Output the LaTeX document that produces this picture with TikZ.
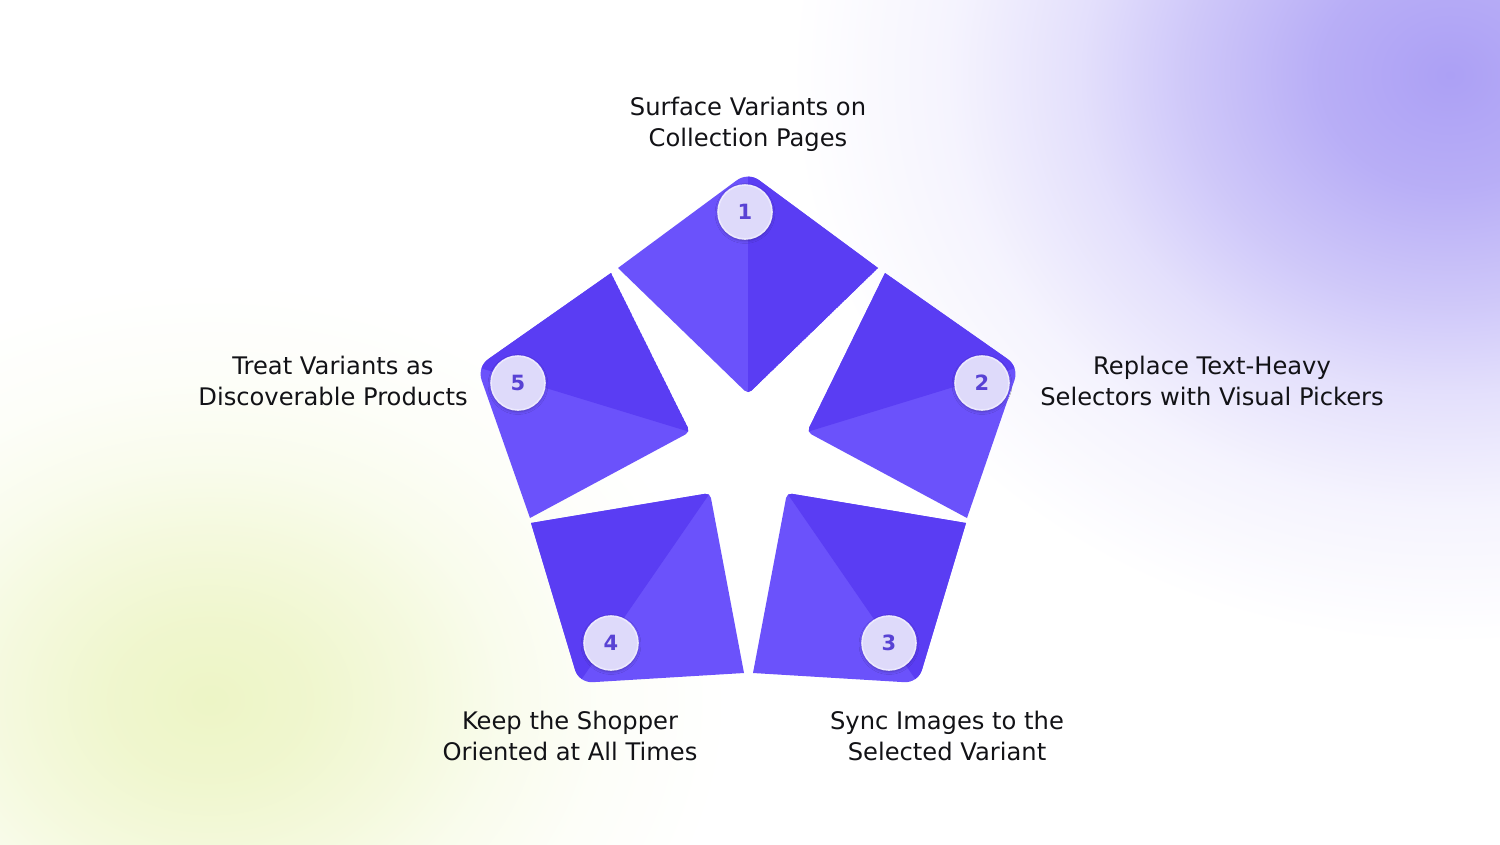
\documentclass[tikz,border=0pt]{standalone}
\usepackage{fontspec}
\setmainfont{DejaVu Sans}
\usetikzlibrary{calc,shadows.blur}
\definecolor{lightv}{RGB}{107,82,251}
\definecolor{darkv}{RGB}{90,61,243}
\definecolor{badgefill}{RGB}{222,218,250}
\definecolor{badgering}{RGB}{236,233,253}
\definecolor{badgetxt}{RGB}{88,66,212}
\definecolor{glowp}{RGB}{172,160,245}
\definecolor{glowg}{RGB}{237,245,198}
\definecolor{labeltxt}{RGB}{18,18,22}
\pgfdeclareradialshading{glowpshade}{\pgfpointorigin}{color(0bp)=(glowp); color(5bp)=(glowp!85!white); color(10bp)=(glowp!58!white); color(14bp)=(glowp!33!white); color(19bp)=(glowp!12!white); color(25bp)=(white); color(50bp)=(white)}
\pgfdeclareradialshading{glowgshade}{\pgfpointorigin}{color(0bp)=(glowg); color(5bp)=(glowg!85!white); color(10bp)=(glowg!58!white); color(14bp)=(glowg!33!white); color(19bp)=(glowg!12!white); color(25bp)=(white); color(50bp)=(white)}
\newcommand\kitepath[4]{($(#1)!14pt!(#2)$) -- (#2) -- ($(#3)!5pt!(#2)$) .. controls ($(#3)!2pt!(#2)$) and ($(#3)!2pt!(#4)$) .. ($(#3)!5pt!(#4)$) -- (#4) -- ($(#1)!14pt!(#4)$) .. controls ($(#1)!5.7pt!(#4)$) and ($(#1)!5.7pt!(#2)$) .. ($(#1)!14pt!(#2)$) -- cycle}
\newcommand\kiteshape[4]{%
  \fill[lightv] \kitepath{#1}{#2}{#3}{#4};
  \begin{scope}
    \clip \kitepath{#1}{#2}{#3}{#4};
    \fill[darkv] (#3) -- ($(#3)!1.3!(#1)$) -- ($(#3)!1.3!(#2)$) -- cycle;
  \end{scope}}
\tikzset{
  badge/.style={circle, minimum size=54pt, inner sep=0pt, fill=badgefill,
    draw=badgering, line width=1.6pt, text=badgetxt,
    font=\fontsize{21}{21}\selectfont\bfseries,
    blur shadow={shadow xshift=0pt, shadow yshift=-1.5pt, shadow blur radius=3pt, shadow opacity=30}},
  lbl/.style={align=center, inner sep=0pt, text=labeltxt,
    font=\fontsize{24.2}{31}\selectfont}
}
\begin{document}
\begin{tikzpicture}[x=1pt,y=-1pt]
\useasboundingbox (0,0) rectangle (1500,844);
\fill[white] (0,0) rectangle (1500,844);
\begin{scope}
\clip (0,0) rectangle (1500,844);
\shade[shading=glowpshade] (1450,75) ellipse [x radius=660pt, y radius=570pt];
\shade[shading=glowgshade] (210,700) ellipse [x radius=520pt, y radius=420pt];
\end{scope}
% pieces: V (outer), A (dark-side corner), P (inner), B (light-side corner)
\coordinate (V1) at (748,172); \coordinate (A1) at (878,268); \coordinate (P1) at (748,394); \coordinate (B1) at (618,268);
\coordinate (V2) at (1019,367); \coordinate (A2) at (885,273); \coordinate (P2) at (807,432); \coordinate (B2) at (967,518);
\coordinate (V3) at (918,683); \coordinate (A3) at (966,523); \coordinate (P3) at (787,493); \coordinate (B3) at (753,673);
\coordinate (V4) at (579,683); \coordinate (A4) at (531,523); \coordinate (P4) at (710,493); \coordinate (B4) at (744,673);
\coordinate (V5) at (477,367); \coordinate (A5) at (611,273); \coordinate (P5) at (690,432); \coordinate (B5) at (530,518);
\kiteshape{V1}{A1}{P1}{B1}
\kiteshape{V2}{A2}{P2}{B2}
\kiteshape{V3}{A3}{P3}{B3}
\kiteshape{V4}{A4}{P4}{B4}
\kiteshape{V5}{A5}{P5}{B5}
% badges
\node[badge] (b1) at (745,212) {1};
\node[badge] (b2) at (982,383) {2};
\node[badge] (b3) at (889,643) {3};
\node[badge] (b4) at (611,643) {4};
\node[badge] (b5) at (518,383) {5};
% labels
\node[lbl] (t1) at (748,124) {Surface Variants on\\Collection Pages};
\node[lbl] (t2) at (1212,381) {Replace Text-Heavy\\Selectors with Visual Pickers};
\node[lbl] (t3) at (947,736) {Sync Images to the\\Selected Variant};
\node[lbl] (t4) at (570,736) {Keep the Shopper\\Oriented at All Times};
\node[lbl] (t5) at (333,381) {Treat Variants as\\Discoverable Products};
\end{tikzpicture}
\end{document}
